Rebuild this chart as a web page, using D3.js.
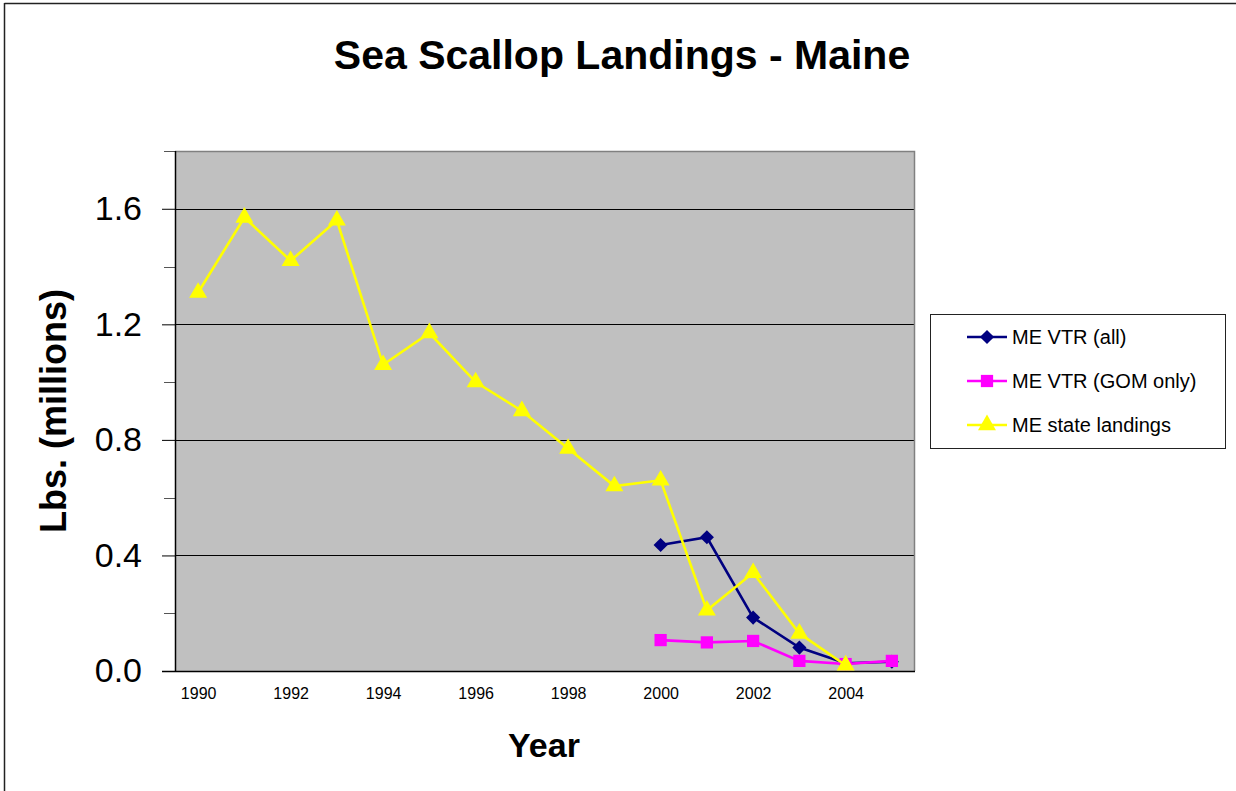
<!DOCTYPE html>
<html>
<head>
<meta charset="utf-8">
<script src="https://cdn.jsdelivr.net/npm/d3@7"></script>
<style>
  html, body { margin: 0; padding: 0; background: #fff; }
  svg { display: block; font-family: "Liberation Sans", Arial, sans-serif; }
</style>
</head>
<body>
<svg id="chart" width="1236" height="791"></svg>
<script>
// Sea scallop landings in Maine, millions of pounds
const years = [1990, 1991, 1992, 1993, 1994, 1995, 1996, 1997, 1998, 1999, 2000, 2001, 2002, 2003, 2004, 2005];
const vtrAll = [null, null, null, null, null, null, null, null, null, null, 0.436, 0.463, 0.185, 0.081, 0.027, 0.032];
const vtrGom = [null, null, null, null, null, null, null, null, null, null, 0.107, 0.099, 0.104, 0.035, 0.024, 0.035];
const stateLandings = [1.31, 1.57, 1.42, 1.56, 1.06, 1.17, 1.00, 0.90, 0.77, 0.64, 0.66, 0.21, 0.34, 0.13, 0.02, null];
const yTicks = [0.0, 0.4, 0.8, 1.2, 1.6];
const yMinorTicks = [0.2, 0.6, 1.0, 1.4, 1.8];
const xTickLabels = [1990, 1992, 1994, 1996, 1998, 2000, 2002, 2004];
const seriesNames = ["ME VTR (all)", "ME VTR (GOM only)", "ME state landings"];

const svg = d3.select("#chart");
const plot = { left: 175, right: 915, top: 151, bottom: 671 };

// outer chart frame (top and left edges)
svg.append("line").attr("x1", 4.5).attr("x2", 1236).attr("y1", 3.5).attr("y2", 3.5)
  .attr("stroke", "#222").attr("stroke-width", 1.5);
svg.append("line").attr("x1", 4.5).attr("x2", 4.5).attr("y1", 3).attr("y2", 791)
  .attr("stroke", "#222").attr("stroke-width", 1.5);

const x = d3.scalePoint().domain(years).range([plot.left, plot.right]).padding(0.5);
const y = d3.scaleLinear().domain([0, 1.8]).range([plot.bottom, plot.top]);

// plot background
svg.append("rect")
  .attr("x", plot.left).attr("y", plot.top)
  .attr("width", plot.right - plot.left).attr("height", plot.bottom - plot.top)
  .attr("fill", "#c0c0c0");

// major gridlines
svg.append("g").selectAll("line").data(yTicks.filter(d => d > 0)).join("line")
  .attr("x1", plot.left).attr("x2", plot.right)
  .attr("y1", d => Math.round(y(d)) + 0.5).attr("y2", d => Math.round(y(d)) + 0.5)
  .attr("stroke", "#000").attr("stroke-width", 1);

// plot frame: grey top and right
svg.append("path")
  .attr("d", `M${plot.left},${plot.top + 0.5}H${plot.right - 0.5}V${plot.bottom}`)
  .attr("fill", "none").attr("stroke", "#808080").attr("stroke-width", 1.5);

// y axis
const yAxis = d3.axisLeft(y).tickValues(yTicks).tickSize(13).tickPadding(20)
  .tickFormat(d3.format(".1f"));
const gy = svg.append("g").attr("transform", `translate(${plot.left},0)`).call(yAxis);
gy.select(".domain").remove();
gy.selectAll(".tick line").attr("stroke", "#000");
gy.selectAll(".tick text")
  .attr("font-size", 34).attr("fill", "#000")
  .attr("font-family", "'Liberation Sans', Arial, sans-serif");
svg.append("g").selectAll("line").data(yMinorTicks).join("line")
  .attr("x1", plot.left - 11).attr("x2", plot.left)
  .attr("y1", d => Math.round(y(d)) + 0.5).attr("y2", d => Math.round(y(d)) + 0.5)
  .attr("stroke", "#555").attr("stroke-width", 1);
svg.append("line").attr("x1", plot.left + 0.5).attr("x2", plot.left + 0.5)
  .attr("y1", plot.top).attr("y2", plot.bottom)
  .attr("stroke", "#000").attr("stroke-width", 1.5);

// x axis
const xAxis = d3.axisBottom(x).tickValues(xTickLabels).tickSize(0).tickPadding(17);
const gx = svg.append("g").attr("transform", `translate(0,${plot.bottom})`).call(xAxis);
gx.select(".domain").remove();
gx.selectAll(".tick text")
  .attr("font-size", 16).attr("fill", "#000")
  .attr("font-family", "'Liberation Sans', Arial, sans-serif");
svg.append("line").attr("x1", plot.left - 13).attr("x2", plot.right)
  .attr("y1", plot.bottom + 0.5).attr("y2", plot.bottom + 0.5)
  .attr("stroke", "#000").attr("stroke-width", 1.5);

// titles
svg.append("text").attr("x", 622).attr("y", 69).attr("text-anchor", "middle")
  .attr("font-size", 41).attr("font-weight", "bold").text("Sea Scallop Landings - Maine");
svg.append("text").attr("x", 544).attr("y", 757).attr("text-anchor", "middle")
  .attr("font-size", 34).attr("font-weight", "bold").text("Year");
svg.append("text")
  .attr("transform", "translate(66,411) rotate(-90)")
  .attr("text-anchor", "middle")
  .attr("font-size", 36).attr("font-weight", "bold").text("Lbs. (millions)");

// series; the diamond is a square turned 45 degrees
const series = [
  { name: seriesNames[0], values: vtrAll, color: "#000080", symbol: d3.symbolSquare, size: 100, rotate: 45 },
  { name: seriesNames[1], values: vtrGom, color: "#ff00ff", symbol: d3.symbolSquare, size: 150, rotate: 0 },
  { name: seriesNames[2], values: stateLandings, color: "#ffff00", symbol: d3.symbolTriangle, size: 140, rotate: 0 }
];

const line = d3.line()
  .defined(d => d.v !== null)
  .x(d => x(d.year)).y(d => y(d.v));

series.forEach(s => {
  const pts = years.map((year, i) => ({ year, v: s.values[i] }));
  svg.append("path").datum(pts)
    .attr("d", line).attr("fill", "none")
    .attr("stroke", s.color).attr("stroke-width", 2.6).attr("stroke-linejoin", "miter");
  svg.append("g").selectAll("path").data(pts.filter(d => d.v !== null)).join("path")
    .attr("transform", d => `translate(${x(d.year)},${y(d.v)}) rotate(${s.rotate})`)
    .attr("d", d3.symbol().type(s.symbol).size(s.size))
    .attr("fill", s.color);
});

// legend
const legend = svg.append("g");
legend.append("rect").attr("x", 930.5).attr("y", 314.5).attr("width", 295).attr("height", 134)
  .attr("fill", "#fff").attr("stroke", "#222").attr("stroke-width", 1);
series.forEach((s, i) => {
  const cy = 337 + i * 44;
  legend.append("line").attr("x1", 967).attr("x2", 1007).attr("y1", cy).attr("y2", cy)
    .attr("stroke", s.color).attr("stroke-width", 2.6);
  legend.append("path").attr("transform", `translate(987,${cy}) rotate(${s.rotate})`)
    .attr("d", d3.symbol().type(s.symbol).size(s.size)).attr("fill", s.color);
  legend.append("text").attr("x", 1012).attr("y", cy + 7)
    .attr("font-size", 20).attr("fill", "#000").text(s.name);
});
</script>
</body>
</html>
